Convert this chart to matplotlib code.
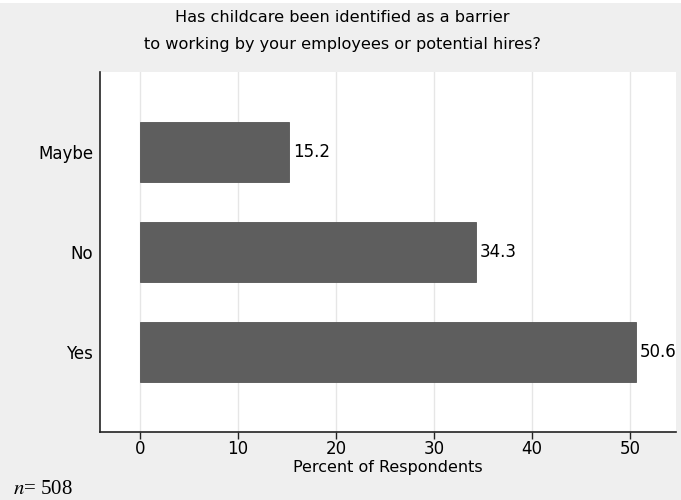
import matplotlib
matplotlib.use("Agg")
import matplotlib.pyplot as plt

# data
answers = ["Yes", "No", "Maybe"]
percents = [50.6, 34.3, 15.2]
xticks = [0, 10, 20, 30, 40, 50]

plt.rcParams['font.family'] = ['DejaVu Sans']
plt.rcParams['mathtext.fontset'] = 'stix'

fig = plt.figure(figsize=(6.81, 5), dpi=100, facecolor="#efefef")
# thin white strip at the very top
fig.patches.append(plt.Rectangle((0, 0.994), 1, 0.006, transform=fig.transFigure,
                                 facecolor="white", edgecolor="none"))

ax = fig.add_axes([100/681, 68/500, 576/681, 360/500])
ax.set_facecolor("white")

ypos = list(range(len(answers)))
ax.barh(ypos, percents, height=0.6, color="#5e5e5e", edgecolor="#555555",
        linewidth=0.6, zorder=3)
for y, v in zip(ypos, percents):
    ax.text(v + 0.4, y, f"{v:.1f}", va="center", ha="left", fontsize=12)

ax.set_yticks(ypos)
ax.set_yticklabels(answers, fontsize=12)
ax.set_xticks(xticks)
ax.set_xticklabels([str(t) for t in xticks], fontsize=12)
ax.set_xlim(-4.08, 54.7)
ax.set_ylim(-0.8, 2.8)

ax.grid(axis="x", color="#e6e6e6", linewidth=1, zorder=0)
for s in ["top", "right"]:
    ax.spines[s].set_visible(False)
ax.spines["left"].set_linewidth(1.2)
ax.spines["bottom"].set_linewidth(1.2)
ax.spines["left"].set_color("#222222")
ax.spines["bottom"].set_color("#222222")
ax.tick_params(axis="y", length=0, pad=5)
ax.tick_params(axis="x", length=5, width=1, direction="out", pad=1, color="#222222")

ax.set_xlabel("Percent of Respondents", fontsize=11.5, labelpad=1)

fig.text(0.503, 1 - 18/500, "Has childcare been identified as a barrier",
         ha="center", va="center", fontsize=11.6)
fig.text(0.503, 1 - 45/500, "to working by your employees or potential hires?",
         ha="center", va="center", fontsize=11.6)

fig.text(13/681, 1 - 490/500, "$n$= 508", ha="left", va="center", fontsize=15,
         family=['Liberation Serif'])

fig.savefig("out.png", dpi=100, facecolor=fig.get_facecolor())
